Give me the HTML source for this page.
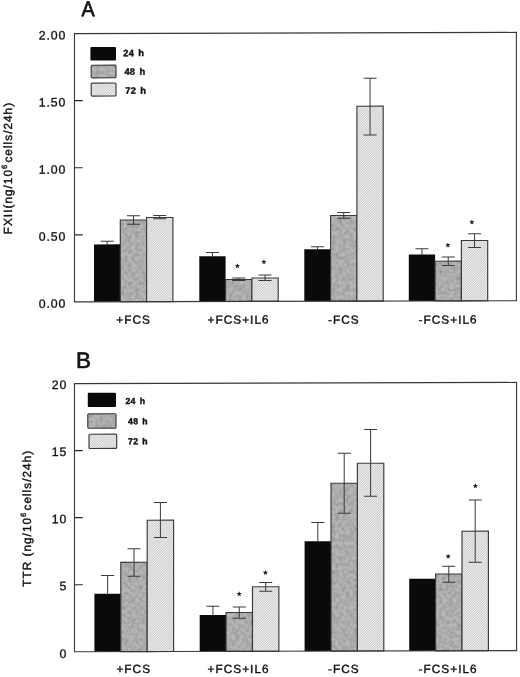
<!DOCTYPE html>
<html lang="en"><head><meta charset="utf-8"><title>Figure</title>
<style>
html,body{margin:0;padding:0;background:#fff;}
body{width:520px;height:677px;overflow:hidden;}
svg{display:block;}
text{font-family:"Liberation Sans",Arial,Helvetica,sans-serif;fill:#111;stroke:#111;stroke-width:0.4px;}
.t{font-size:12.3px;letter-spacing:0.9px;stroke-width:0.32px;}
.x{font-size:11.8px;letter-spacing:1.05px;}
.y{font-size:11.8px;letter-spacing:1.02px;}
.l{font-size:9.3px;font-weight:bold;letter-spacing:0.2px;word-spacing:1.5px;}
.p{font-size:21.5px;stroke-width:0.7px;}
.s{font-family:"DejaVu Sans",sans-serif;font-size:4.8px;fill:#111;stroke-width:0.5px;}
</style></head><body>
<svg width="520" height="677" viewBox="0 0 520 677">
<defs>
<pattern id="h" width="1.7" height="1.7" patternUnits="userSpaceOnUse" patternTransform="rotate(-45)">
<rect width="1.7" height="1.7" fill="#f4f4f4"/><rect width="1.7" height="0.7" fill="#bcbcbc"/>
</pattern>
<filter id="n" x="0" y="0" width="1" height="1" color-interpolation-filters="sRGB">
<feTurbulence type="fractalNoise" baseFrequency="0.28" numOctaves="2" seed="7" result="t"/>
<feColorMatrix in="t" type="matrix" values="0 0 0 0 0.45  0 0 0 0 0.45  0 0 0 0 0.45  0.95 0 0 0 -0.31" result="a"/>
<feComposite in="a" in2="SourceGraphic" operator="in" result="b"/>
<feMerge><feMergeNode in="SourceGraphic"/><feMergeNode in="b"/></feMerge>
</filter>
</defs>
<rect width="520" height="677" fill="#fff"/>
<g transform="matrix(1,-0.0027,0,1,0,0.201)">

<rect x="94" y="244.49" width="26.3" height="57.41" fill="#0a0a0a"/>
<rect x="120.3" y="220.16" width="26.3" height="81.74" fill="#b8b8b8" filter="url(#n)"/>
<rect x="120.3" y="220.16" width="26.3" height="81.74" fill="none" stroke="#3a3a3a" stroke-width="1.15"/>
<rect x="146.6" y="217.73" width="26.3" height="84.17" fill="url(#h)" stroke="#3a3a3a" stroke-width="1.15"/>
<rect x="199.3" y="256.57" width="26.3" height="45.33" fill="#0a0a0a"/>
<rect x="225.6" y="279.94" width="26.3" height="21.96" fill="#b8b8b8" filter="url(#n)"/>
<rect x="225.6" y="279.94" width="26.3" height="21.96" fill="none" stroke="#3a3a3a" stroke-width="1.15"/>
<rect x="251.9" y="278.51" width="26.3" height="23.39" fill="url(#h)" stroke="#3a3a3a" stroke-width="1.15"/>
<rect x="304.3" y="249.86" width="26.3" height="52.04" fill="#0a0a0a"/>
<rect x="330.6" y="216.23" width="26.3" height="85.67" fill="#b8b8b8" filter="url(#n)"/>
<rect x="330.6" y="216.23" width="26.3" height="85.67" fill="none" stroke="#3a3a3a" stroke-width="1.15"/>
<rect x="356.9" y="107" width="26.3" height="194.9" fill="url(#h)" stroke="#3a3a3a" stroke-width="1.15"/>
<rect x="408.8" y="255.44" width="26.3" height="46.46" fill="#0a0a0a"/>
<rect x="435.1" y="262.21" width="26.3" height="39.69" fill="#b8b8b8" filter="url(#n)"/>
<rect x="435.1" y="262.21" width="26.3" height="39.69" fill="none" stroke="#3a3a3a" stroke-width="1.15"/>
<rect x="461.4" y="241.58" width="26.3" height="60.32" fill="url(#h)" stroke="#3a3a3a" stroke-width="1.15"/>
<path d="M107.15 241.29V244.49M100.65 241.29H113.65" stroke="#3a3a3a" stroke-width="1" fill="none"/>
<path d="M133.45 215.96V224.36M126.95 215.96H139.95M126.95 224.36H139.95" stroke="#3a3a3a" stroke-width="1" fill="none"/>
<path d="M159.75 215.73V219.03M153.25 215.73H166.25M153.25 219.03H166.25" stroke="#3a3a3a" stroke-width="1" fill="none"/>
<path d="M212.45 252.87V256.57M205.95 252.87H218.95" stroke="#3a3a3a" stroke-width="1" fill="none"/>
<path d="M238.75 278.44V280.94M232.25 278.44H245.25M232.25 280.94H245.25" stroke="#3a3a3a" stroke-width="1" fill="none"/>
<path d="M265.05 275.51V281.01M258.55 275.51H271.55M258.55 281.01H271.55" stroke="#3a3a3a" stroke-width="1" fill="none"/>
<path d="M317.45 247.46V249.86M310.95 247.46H323.95" stroke="#3a3a3a" stroke-width="1" fill="none"/>
<path d="M343.75 213.23V218.93M337.25 213.23H350.25M337.25 218.93H350.25" stroke="#3a3a3a" stroke-width="1" fill="none"/>
<path d="M370.05 79V135.8M363.55 79H376.55M363.55 135.8H376.55" stroke="#3a3a3a" stroke-width="1" fill="none"/>
<path d="M421.95 249.74V255.44M415.45 249.74H428.45" stroke="#3a3a3a" stroke-width="1" fill="none"/>
<path d="M448.25 258.01V266.51M441.75 258.01H454.75M441.75 266.51H454.75" stroke="#3a3a3a" stroke-width="1" fill="none"/>
<path d="M474.55 234.88V248.58M468.05 234.88H481.05M468.05 248.58H481.05" stroke="#3a3a3a" stroke-width="1" fill="none"/>
<rect x="74.5" y="33.6" width="441.9" height="268.3" fill="none" stroke="#383838" stroke-width="1.1"/>
<line x1="74.5" y1="100.7" x2="82.8" y2="100.7" stroke="#2a2a2a" stroke-width="1.2"/>
<line x1="74.5" y1="167.75" x2="82.8" y2="167.75" stroke="#2a2a2a" stroke-width="1.2"/>
<line x1="74.5" y1="234.8" x2="82.8" y2="234.8" stroke="#2a2a2a" stroke-width="1.2"/>
<text class="t" x="66.3" y="39.4" text-anchor="end">2.00</text>
<text class="t" x="66.3" y="106.4" text-anchor="end">1.50</text>
<text class="t" x="66.3" y="173.6" text-anchor="end">1.00</text>
<text class="t" x="66.3" y="240.7" text-anchor="end">0.50</text>
<text class="t" x="66.3" y="307.8" text-anchor="end">0.00</text>
<text class="x" x="116.2" y="323.88">+FCS</text>
<text class="x" x="207.5" y="324.13">+FCS+IL6</text>
<text class="x" x="328" y="324.45">-FCS</text>
<text class="x" x="418.5" y="324.7">-FCS+IL6</text>
<text class="s" x="237.5" y="268.04" text-anchor="middle">★</text>
<text class="s" x="263.8" y="264.11" text-anchor="middle">★</text>
<text class="s" x="448" y="247.81" text-anchor="middle">★</text>
<text class="s" x="472" y="224.87" text-anchor="middle">★</text>
<rect x="90.4" y="47.1" width="25.6" height="13.5" rx="1" fill="#0a0a0a"/>
<text class="l" x="123.3" y="56.3">24 h</text>
<rect x="91.2" y="65.3" width="24.8" height="12.6" rx="1" fill="#b8b8b8" filter="url(#n)"/>
<rect x="91.2" y="65.3" width="24.8" height="12.6" rx="1" fill="none" stroke="#3a3a3a" stroke-width="1.15"/>
<text class="l" x="124.5" y="75">48 h</text>
<rect x="91.2" y="83.1" width="24.8" height="13" rx="1" fill="url(#h)" stroke="#3a3a3a" stroke-width="1.15"/>
<text class="l" x="125.3" y="94">72 h</text>
<text class="y" transform="translate(12.4 234.1) rotate(-90)">FXII(ng/10<tspan font-size="7.6" dy="-5.3">6</tspan><tspan dy="5.3" dx="1.2">cells/24h)</tspan></text>
<text class="p" style="font-size:21.5px" transform="translate(81.4 16.2) scale(0.92 1)">A</text>
<rect x="94.4" y="593.79" width="26.4" height="58.01" fill="#0a0a0a"/>
<rect x="120.8" y="562.46" width="26.4" height="89.34" fill="#b8b8b8" filter="url(#n)"/>
<rect x="120.8" y="562.46" width="26.4" height="89.34" fill="none" stroke="#3a3a3a" stroke-width="1.15"/>
<rect x="147.2" y="520.43" width="26.4" height="131.37" fill="url(#h)" stroke="#3a3a3a" stroke-width="1.15"/>
<rect x="199.7" y="615.37" width="26.4" height="36.43" fill="#0a0a0a"/>
<rect x="226.1" y="612.94" width="26.4" height="38.86" fill="#b8b8b8" filter="url(#n)"/>
<rect x="226.1" y="612.94" width="26.4" height="38.86" fill="none" stroke="#3a3a3a" stroke-width="1.15"/>
<rect x="252.5" y="587.27" width="26.4" height="64.53" fill="url(#h)" stroke="#3a3a3a" stroke-width="1.15"/>
<rect x="304.6" y="541.91" width="26.4" height="109.89" fill="#0a0a0a"/>
<rect x="331" y="483.98" width="26.4" height="167.82" fill="#b8b8b8" filter="url(#n)"/>
<rect x="331" y="483.98" width="26.4" height="167.82" fill="none" stroke="#3a3a3a" stroke-width="1.15"/>
<rect x="357.4" y="464.05" width="26.4" height="187.75" fill="url(#h)" stroke="#3a3a3a" stroke-width="1.15"/>
<rect x="409.2" y="579.64" width="26.4" height="72.16" fill="#0a0a0a"/>
<rect x="435.6" y="575.01" width="26.4" height="76.79" fill="#b8b8b8" filter="url(#n)"/>
<rect x="435.6" y="575.01" width="26.4" height="76.79" fill="none" stroke="#3a3a3a" stroke-width="1.15"/>
<rect x="462" y="532.28" width="26.4" height="119.52" fill="url(#h)" stroke="#3a3a3a" stroke-width="1.15"/>
<path d="M107.6 575.59V593.79M101.1 575.59H114.1" stroke="#3a3a3a" stroke-width="1" fill="none"/>
<path d="M134 548.96V576.46M127.5 548.96H140.5M127.5 576.46H140.5" stroke="#3a3a3a" stroke-width="1" fill="none"/>
<path d="M160.4 502.73V537.83M153.9 502.73H166.9M153.9 537.83H166.9" stroke="#3a3a3a" stroke-width="1" fill="none"/>
<path d="M212.9 606.62V615.37M206.4 606.62H219.4" stroke="#3a3a3a" stroke-width="1" fill="none"/>
<path d="M239.3 607.44V618.69M232.8 607.44H245.8M232.8 618.69H245.8" stroke="#3a3a3a" stroke-width="1" fill="none"/>
<path d="M265.7 583.02V591.77M259.2 583.02H272.2M259.2 591.77H272.2" stroke="#3a3a3a" stroke-width="1" fill="none"/>
<path d="M317.8 523.16V541.91M311.3 523.16H324.3" stroke="#3a3a3a" stroke-width="1" fill="none"/>
<path d="M344.2 453.98V513.98M337.7 453.98H350.7M337.7 513.98H350.7" stroke="#3a3a3a" stroke-width="1" fill="none"/>
<path d="M370.6 430.3V497.05M364.1 430.3H377.1M364.1 497.05H377.1" stroke="#3a3a3a" stroke-width="1" fill="none"/>
<path d="M448.8 567.31V583.31M442.3 567.31H455.3M442.3 583.31H455.3" stroke="#3a3a3a" stroke-width="1" fill="none"/>
<path d="M475.2 501.18V563.28M468.7 501.18H481.7M468.7 563.28H481.7" stroke="#3a3a3a" stroke-width="1" fill="none"/>
<rect x="74.5" y="383.6" width="442.1" height="268.2" fill="none" stroke="#383838" stroke-width="1.1"/>
<line x1="74.5" y1="450.65" x2="82.8" y2="450.65" stroke="#2a2a2a" stroke-width="1.2"/>
<line x1="74.5" y1="517.7" x2="82.8" y2="517.7" stroke="#2a2a2a" stroke-width="1.2"/>
<line x1="74.5" y1="584.75" x2="82.8" y2="584.75" stroke="#2a2a2a" stroke-width="1.2"/>
<text class="t" x="67.3" y="389" text-anchor="end">20</text>
<text class="t" x="67.3" y="456" text-anchor="end">15</text>
<text class="t" x="67.3" y="523.1" text-anchor="end">10</text>
<text class="t" x="67.3" y="590.1" text-anchor="end">5</text>
<text class="t" x="67.3" y="658" text-anchor="end">0</text>
<text class="x" x="116.4" y="673.18">+FCS</text>
<text class="x" x="207.5" y="673.43">+FCS+IL6</text>
<text class="x" x="328" y="673.75">-FCS</text>
<text class="x" x="418.5" y="674">-FCS+IL6</text>
<text class="s" x="239.25" y="595.99" text-anchor="middle">★</text>
<text class="s" x="265.5" y="574.82" text-anchor="middle">★</text>
<text class="s" x="448.2" y="559.11" text-anchor="middle">★</text>
<text class="s" x="475.4" y="488.58" text-anchor="middle">★</text>
<rect x="87.8" y="392.8" width="28.2" height="14.3" rx="1" fill="#0a0a0a"/>
<text class="l" x="125.5" y="404.2" style="font-size:8.7px">24 h</text>
<rect x="87.8" y="413.9" width="28.2" height="14.4" rx="1" fill="#b8b8b8" filter="url(#n)"/>
<rect x="87.8" y="413.9" width="28.2" height="14.4" rx="1" fill="none" stroke="#3a3a3a" stroke-width="1.15"/>
<text class="l" x="128.1" y="424.5" style="font-size:8.7px">48 h</text>
<rect x="89" y="434.3" width="27.7" height="14.2" rx="1" fill="url(#h)" stroke="#3a3a3a" stroke-width="1.15"/>
<text class="l" x="128.1" y="444.4" style="font-size:8.7px">72 h</text>
<text class="y" transform="translate(31.3 586.7) rotate(-90)">TTR (ng/10<tspan font-size="7.6" dy="-5.3">6</tspan><tspan dy="5.3" dx="1.2">cells/24h)</tspan></text>
<text class="p" style="font-size:22.4px" transform="translate(75.9 367.9) scale(1 1)">B</text>
</g>
</svg>
</body></html>
